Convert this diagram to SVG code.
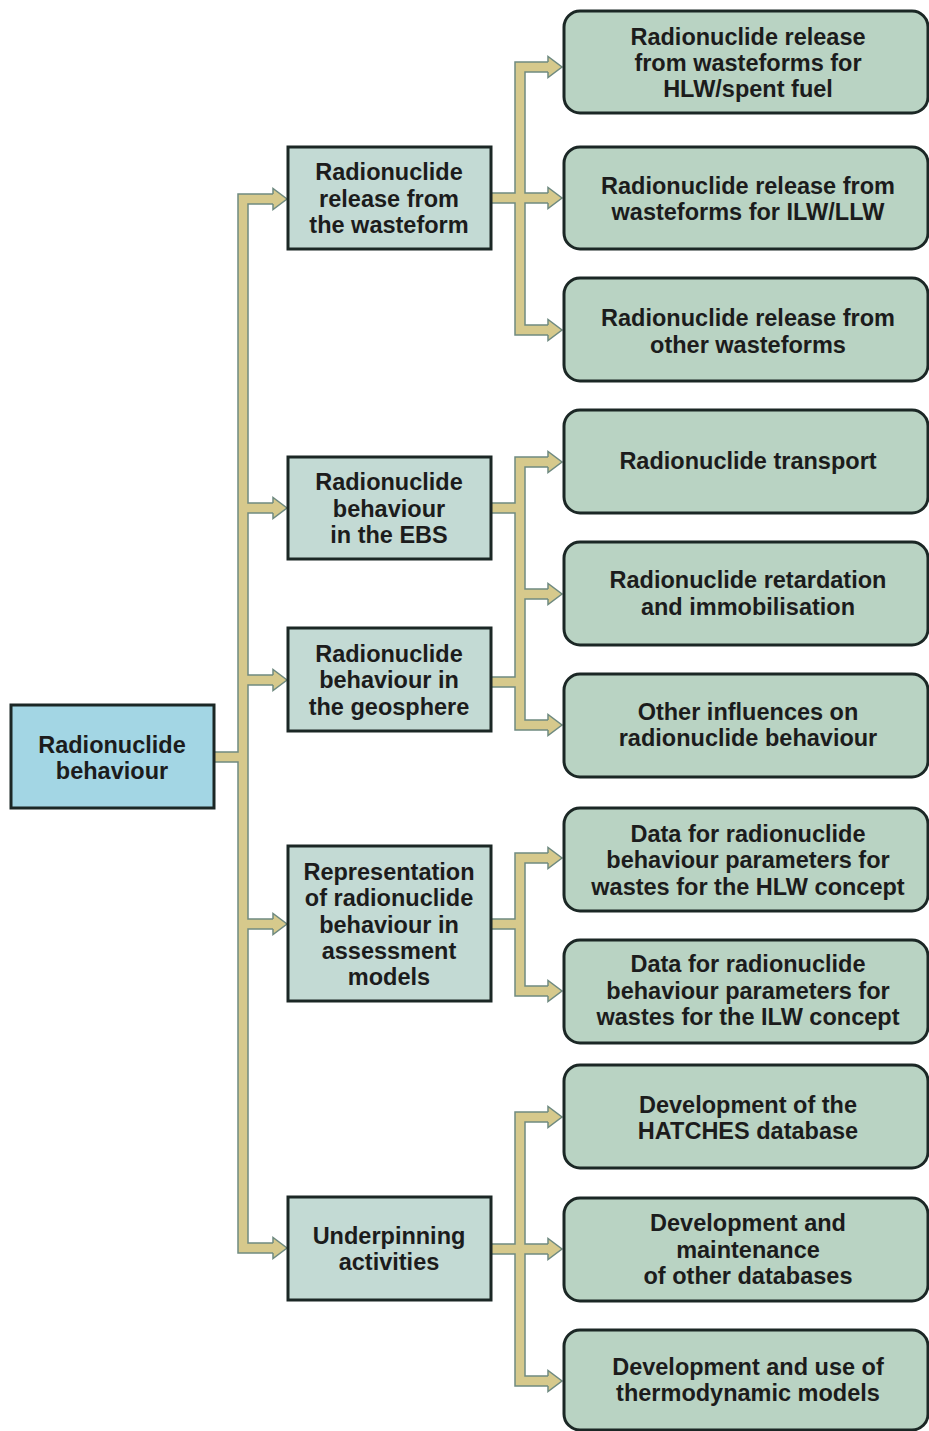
<svg xmlns="http://www.w3.org/2000/svg" xmlns:xlink="http://www.w3.org/1999/xlink" width="929" height="1431" viewBox="0 0 929 1431">
<style>
.t{font-family:"Liberation Sans",Arial,sans-serif;font-weight:bold;font-size:23.5px;fill:#1c1c1c;text-anchor:middle}
.root{fill:#a3d6e4;stroke:#1b2725;stroke-width:3}
.l1{fill:#c3dad4;stroke:#1b2725;stroke-width:3}
.l2{fill:#b9d3c3;stroke:#1b2725;stroke-width:3}
.co{fill:none;stroke:#6f8a80;stroke-width:11.5;stroke-linejoin:miter}
.cf{fill:none;stroke:#d6c98c;stroke-width:8.5;stroke-linejoin:miter}
.ah{fill:#d6c98c;stroke:#6f8a80;stroke-width:1.5;stroke-linejoin:miter}
</style>
<defs>
<path id="lines" d="M273,199 H243 V1248 H273 M243,508 H273 M243,680 H273 M243,924 H273 M214,757 H243
M548,67 H520 V330 H548 M491,198 H548
M548,462 H520 V725 H548 M520,594 H548 M491,508 H520 M491,682 H520
M548,858 H520 V991 H548 M491,924 H520
M548,1117 H520 V1381 H548 M491,1249 H548"/>
<path id="ahd" d="M0,-5 V-10.5 L14,0 L0,10.5 V5"/>
</defs>
<rect width="929" height="1431" fill="#ffffff"/>
<g id="connectors">
<use xlink:href="#lines" class="co"/>
<use xlink:href="#lines" class="cf"/>
<use xlink:href="#ahd" class="ah" x="273" y="199"/>
<use xlink:href="#ahd" class="ah" x="273" y="508"/>
<use xlink:href="#ahd" class="ah" x="273" y="680"/>
<use xlink:href="#ahd" class="ah" x="273" y="924"/>
<use xlink:href="#ahd" class="ah" x="273" y="1248"/>
<use xlink:href="#ahd" class="ah" x="548" y="67"/>
<use xlink:href="#ahd" class="ah" x="548" y="198"/>
<use xlink:href="#ahd" class="ah" x="548" y="330"/>
<use xlink:href="#ahd" class="ah" x="548" y="462"/>
<use xlink:href="#ahd" class="ah" x="548" y="594"/>
<use xlink:href="#ahd" class="ah" x="548" y="725"/>
<use xlink:href="#ahd" class="ah" x="548" y="858"/>
<use xlink:href="#ahd" class="ah" x="548" y="991"/>
<use xlink:href="#ahd" class="ah" x="548" y="1117"/>
<use xlink:href="#ahd" class="ah" x="548" y="1249"/>
<use xlink:href="#ahd" class="ah" x="548" y="1381"/>
</g>
<g id="root">
<rect class="root" x="11" y="705" width="203" height="103"/>
<text class="t" x="112" y="753">Radionuclide</text>
<text class="t" x="112" y="779">behaviour</text>
</g>
<g id="n1">
<rect class="l1" x="288" y="147" width="203" height="102"/>
<text class="t" x="389" y="180">Radionuclide</text>
<text class="t" x="389" y="207">release from</text>
<text class="t" x="389" y="233">the wasteform</text>
</g>
<g id="n2">
<rect class="l1" x="288" y="457" width="203" height="102"/>
<text class="t" x="389" y="490">Radionuclide</text>
<text class="t" x="389" y="517">behaviour</text>
<text class="t" x="389" y="543">in the EBS</text>
</g>
<g id="n3">
<rect class="l1" x="288" y="628" width="203" height="103"/>
<text class="t" x="389" y="662">Radionuclide</text>
<text class="t" x="389" y="688">behaviour in</text>
<text class="t" x="389" y="715">the geosphere</text>
</g>
<g id="n4">
<rect class="l1" x="288" y="846" width="203" height="155"/>
<text class="t" x="389" y="880">Representation</text>
<text class="t" x="389" y="906">of radionuclide</text>
<text class="t" x="389" y="933">behaviour in</text>
<text class="t" x="389" y="959">assessment</text>
<text class="t" x="389" y="985">models</text>
</g>
<g id="n5">
<rect class="l1" x="288" y="1197" width="203" height="103"/>
<text class="t" x="389" y="1244">Underpinning</text>
<text class="t" x="389" y="1270">activities</text>
</g>
<g id="n1a">
<rect class="l2" x="564" y="11" width="364" height="102" rx="16"/>
<text class="t" x="748" y="45">Radionuclide release</text>
<text class="t" x="748" y="71">from wasteforms for</text>
<text class="t" x="748" y="97">HLW/spent fuel</text>
</g>
<g id="n1b">
<rect class="l2" x="564" y="147" width="364" height="102" rx="16"/>
<text class="t" x="748" y="194">Radionuclide release from</text>
<text class="t" x="748" y="220">wasteforms for ILW/LLW</text>
</g>
<g id="n1c">
<rect class="l2" x="564" y="278" width="364" height="103" rx="16"/>
<text class="t" x="748" y="326">Radionuclide release from</text>
<text class="t" x="748" y="353">other wasteforms</text>
</g>
<g id="n2a">
<rect class="l2" x="564" y="410" width="364" height="103" rx="16"/>
<text class="t" x="748" y="469">Radionuclide transport</text>
</g>
<g id="n2b">
<rect class="l2" x="564" y="542" width="364" height="103" rx="16"/>
<text class="t" x="748" y="588">Radionuclide retardation</text>
<text class="t" x="748" y="615">and immobilisation</text>
</g>
<g id="n2c">
<rect class="l2" x="564" y="674" width="364" height="103" rx="16"/>
<text class="t" x="748" y="720">Other influences on</text>
<text class="t" x="748" y="746">radionuclide behaviour</text>
</g>
<g id="n4a">
<rect class="l2" x="564" y="808" width="364" height="103" rx="16"/>
<text class="t" x="748" y="842">Data for radionuclide</text>
<text class="t" x="748" y="868">behaviour parameters for</text>
<text class="t" x="748" y="895">wastes for the HLW concept</text>
</g>
<g id="n4b">
<rect class="l2" x="564" y="940" width="364" height="103" rx="16"/>
<text class="t" x="748" y="972">Data for radionuclide</text>
<text class="t" x="748" y="999">behaviour parameters for</text>
<text class="t" x="748" y="1025">wastes for the ILW concept</text>
</g>
<g id="n5a">
<rect class="l2" x="564" y="1065" width="364" height="103" rx="16"/>
<text class="t" x="748" y="1113">Development of the</text>
<text class="t" x="748" y="1139">HATCHES database</text>
</g>
<g id="n5b">
<rect class="l2" x="564" y="1198" width="364" height="103" rx="16"/>
<text class="t" x="748" y="1231">Development and</text>
<text class="t" x="748" y="1258">maintenance</text>
<text class="t" x="748" y="1284">of other databases</text>
</g>
<g id="n5c">
<rect class="l2" x="564" y="1330" width="364" height="100" rx="16"/>
<text class="t" x="748" y="1375">Development and use of</text>
<text class="t" x="748" y="1401">thermodynamic models</text>
</g>
</svg>
